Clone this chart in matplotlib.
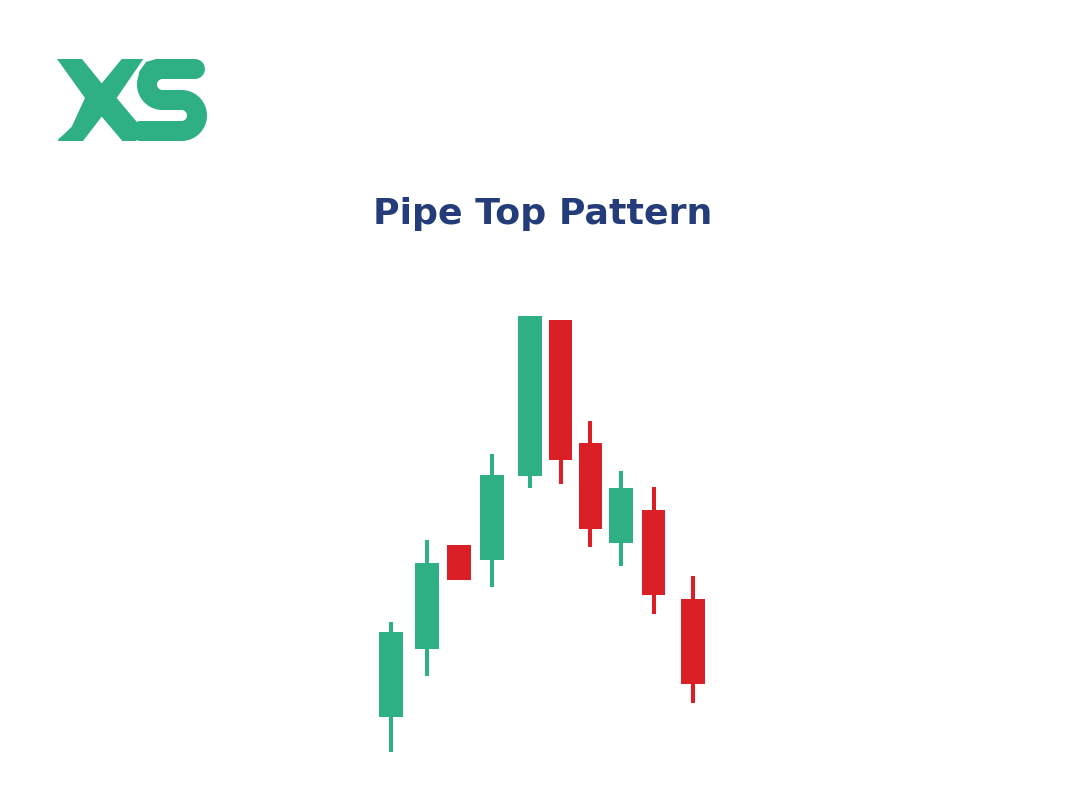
import numpy as np
import matplotlib
matplotlib.use("Agg")
import matplotlib.pyplot as plt
from matplotlib.patches import Polygon

# candle data (arbitrary price units)
x_pos = [0, 1.12, 2.12, 3.16, 4.34, 5.3, 6.23, 7.19, 8.21, 9.44]
opens = [8.3, 15.1, 25.5, 24.0, 32.4, 48.0, 35.7, 25.7, 29.0, 20.1]
closes = [16.8, 23.7, 22.0, 32.5, 48.4, 34.0, 27.1, 31.2, 20.5, 11.6]
highs = [17.8, 26.0, 25.5, 34.6, 48.4, 48.0, 37.9, 32.9, 31.3, 22.4]
lows = [4.8, 12.4, 22.0, 21.3, 31.2, 31.6, 25.3, 23.4, 18.6, 9.7]

title = "Pipe Top Pattern"
GREEN = "#2FB084"
RED = "#DA1F27"
NAVY = "#243C7A"

fig = plt.figure(figsize=(10.84, 8.05), dpi=100)
fig.patch.set_facecolor("white")

# candles
ax = fig.add_axes([0, 0, 1, 1])
ax.set_xlim(-391 / 32, (1084 - 391) / 32)
ax.set_ylim(-0.5, 80)
ax.axis("off")

for x, o, c, h, l in zip(x_pos, opens, closes, highs, lows):
    col = GREEN if c >= o else RED
    ax.vlines(x, l, h, color=col, linewidth=2.9, zorder=1)
    ax.bar(x, abs(c - o), bottom=min(o, c), width=0.73, color=col, zorder=2)

fig.text(543 / 1084, 1 - 224 / 805, title, ha="center", va="baseline",
         fontsize=26.2, fontweight="bold", color=NAVY, family="DejaVu Sans")

# logo (drawn in pixel space)
lg = fig.add_axes([0, 0, 1, 1], zorder=5)
lg.set_xlim(0, 1084)
lg.set_ylim(805, 0)
lg.axis("off")
lg.patch.set_alpha(0)

x_shape = [(57, 59), (82, 59), (101.7, 83.3), (121.7, 59), (143.3, 59),
           (116.7, 98), (136, 121), (136, 141), (122.4, 141), (101.7, 116.7),
           (83, 141), (58, 141), (58.5, 139), (65, 133.3), (71.7, 126.7),
           (85, 98)]
lg.add_patch(Polygon(x_shape, closed=True, color=GREEN, lw=0))

# S as a thick stroke along its centre line
r = 15.5
a = np.linspace(0, np.pi, 40)
pts = [(195, 69), (162.5, 69)]
pts += list(zip(162.5 - r * np.sin(a), 84.5 - r * np.cos(a)))
pts += list(zip(181.5 + r * np.sin(a), 115.5 - r * np.cos(a)))
pts += [(140, 131)]
pts = np.array(pts)
lg.plot(pts[:, 0], pts[:, 1], color=GREEN, linewidth=20 * 0.72,
        solid_capstyle="round", solid_joinstyle="round")
# squarer upper-left shoulder of the S
lg.add_patch(Polygon([(138, 86), (139, 72), (146, 62), (156, 59), (163, 59),
                      (163, 70), (148, 86)], closed=True, color=GREEN, lw=0))

fig.savefig("out.png", dpi=100, facecolor="white")
